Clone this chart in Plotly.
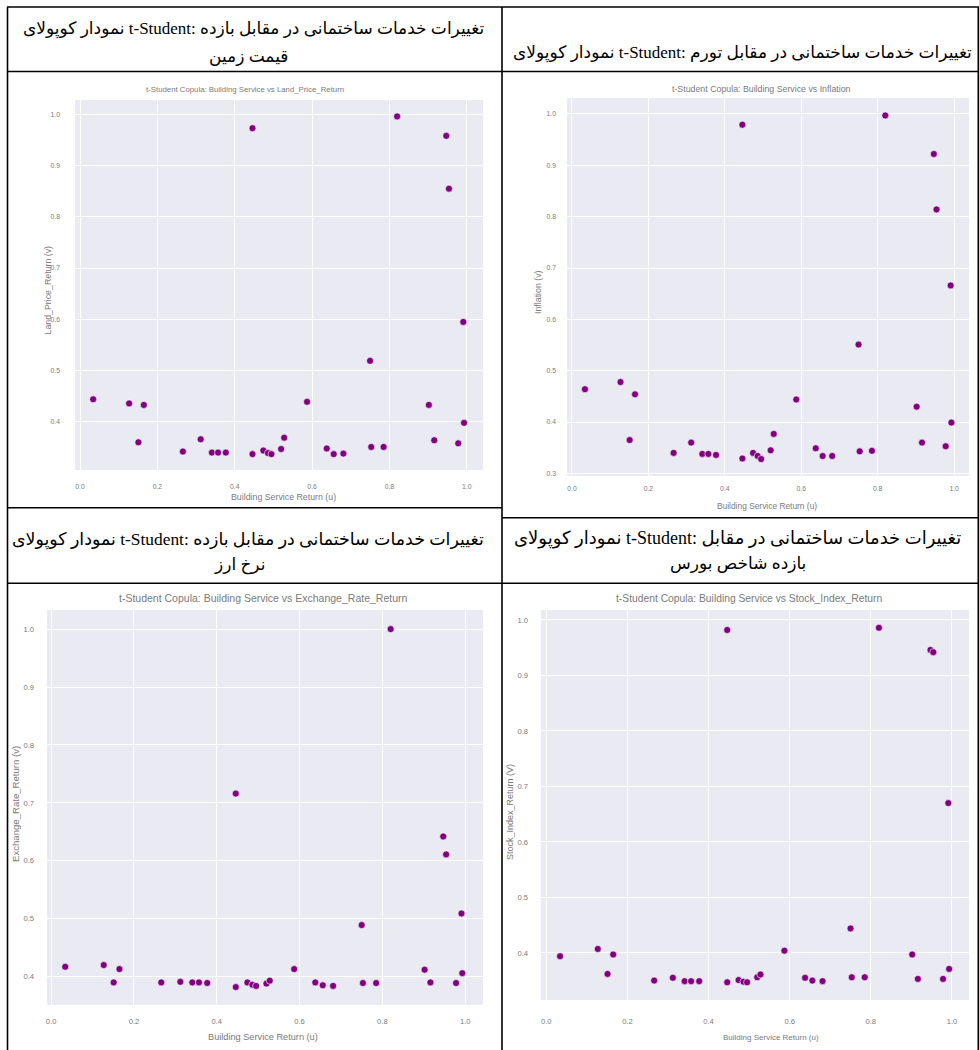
import plotly.graph_objects as go

W, H = 979, 1050

# ---------------- data ----------------
u = [0.034, 0.127, 0.151, 0.165, 0.266, 0.312, 0.341, 0.357, 0.377, 0.446, 0.446,
     0.474, 0.486, 0.495, 0.520, 0.528, 0.587, 0.638, 0.656, 0.681, 0.750, 0.753,
     0.785, 0.820, 0.902, 0.916, 0.947, 0.954, 0.978, 0.991, 0.993]

land_price = [0.444, 0.436, 0.360, 0.433, 0.342, 0.366, 0.340, 0.340, 0.340, 0.973, 0.337,
              0.344, 0.339, 0.337, 0.347, 0.369, 0.439, 0.348, 0.337, 0.338, 0.519, 0.351,
              0.351, 0.996, 0.433, 0.364, 0.958, 0.855, 0.358, 0.595, 0.398]

inflation = [0.464, 0.478, 0.365, 0.454, 0.340, 0.360, 0.338, 0.338, 0.336, 0.979, 0.329,
             0.340, 0.334, 0.328, 0.345, 0.377, 0.444, 0.349, 0.334, 0.334, 0.551, 0.343,
             0.344, 0.997, 0.430, 0.360, 0.922, 0.814, 0.353, 0.666, 0.399]

exchange_rate = [0.417, 0.420, 0.390, 0.413, 0.390, 0.391, 0.390, 0.390, 0.389, 0.716, 0.382,
                 0.390, 0.386, 0.384, 0.388, 0.393, 0.413, 0.390, 0.385, 0.384, 0.489, 0.389,
                 0.389, 1.000, 0.412, 0.390, 0.642, 0.611, 0.389, 0.509, 0.406]

stock_index = [0.394, 0.407, 0.362, 0.397, 0.350, 0.355, 0.349, 0.349, 0.349, 0.982, 0.347,
               0.351, 0.348, 0.347, 0.356, 0.361, 0.404, 0.355, 0.350, 0.349, 0.444, 0.356,
               0.356, 0.986, 0.397, 0.353, 0.946, 0.942, 0.353, 0.670, 0.371]

chart_titles = ["t-Student Copula: Building Service vs Land_Price_Return",
                "t-Student Copula: Building Service vs Inflation",
                "t-Student Copula: Building Service vs Exchange_Rate_Return",
                "t-Student Copula: Building Service vs Stock_Index_Return"]
y_labels = ["Land_Price_Return (v)", "Inflation (v)", "Exchange_Rate_Return (v)", "Stock_Index_Return (V)"]
x_label = "Building Service Return (u)"

captions = [
    ["نمودار کوپولای t-Student: تغییرات خدمات ساختمانی در مقابل بازده", "قیمت زمین"],
    ["نمودار کوپولای t-Student: تغییرات خدمات ساختمانی در مقابل تورم"],
    ["نمودار کوپولای t-Student: تغییرات خدمات ساختمانی در مقابل بازده", "نرخ ارز"],
    ["نمودار کوپولای t-Student: تغییرات خدمات ساختمانی در مقابل", "بازده شاخص بورس"],
]
series = [land_price, inflation, exchange_rate, stock_index]


# ---------------- layout (pixel boxes) ----------------
def px(x):
    return x / W


def py(y):
    return 1 - y / H


panels = [
    dict(box=(75, 100, 483, 470), xr=(-0.013, 1.042), yr=(0.306, 1.028),
         title_xy=(245, 89), title_fs=7.8, xt_xy=(283, 497), xt_fs=8.8,
         yt_xy=(47.5, 290), yt_fs=8.8, tick_fs=6.8, xstand=11, ystand=14,
         cap_xy=[(253, 29), (248, 57)], cap_fs=[17, 17]),
    dict(box=(567, 98, 969, 476), xr=(-0.013, 1.039), yr=(0.295, 1.031),
         title_xy=(761, 89), title_fs=8.8, xt_xy=(767, 506), xt_fs=8.4,
         yt_xy=(538, 292), yt_fs=8.8, tick_fs=6.8, xstand=7, ystand=10,
         cap_xy=[(742, 53)], cap_fs=[17]),
    dict(box=(47, 610, 483, 1005), xr=(-0.010, 1.043), yr=(0.351, 1.033),
         title_xy=(263, 598), title_fs=10.5, xt_xy=(263, 1037), xt_fs=9.2,
         yt_xy=(15, 804), yt_fs=9.6, tick_fs=7.6, xstand=10, ystand=12,
         cap_xy=[(248, 539), (239, 565)], cap_fs=[17.4, 17]),
    dict(box=(541, 610, 969, 1000), xr=(-0.013, 1.042), yr=(0.315, 1.018),
         title_xy=(749, 598), title_fs=10.3, xt_xy=(771, 1037), xt_fs=8.0,
         yt_xy=(510, 812), yt_fs=9.0, tick_fs=7.6, xstand=15, ystand=12,
         cap_xy=[(737, 538), (738, 563)], cap_fs=[18, 17]),
]

TXT = "#7a7a7a"
SANS = "Arial, Liberation Sans, sans-serif"
CAPFONT = "Times New Roman, Liberation Serif, DejaVu Sans, serif"

fig = go.Figure()
annotations = []
layout_axes = {}

for i, (p, v) in enumerate(zip(panels, series), start=1):
    xa = "x" if i == 1 else f"x{i}"
    ya = "y" if i == 1 else f"y{i}"
    fig.add_trace(go.Scatter(
        x=u, y=v, mode="markers", xaxis=xa, yaxis=ya, showlegend=False,
        marker=dict(size=7, color="purple", line=dict(color="white", width=0.6)),
        hovertemplate="u=%{x:.3f}<br>v=%{y:.3f}<extra></extra>"))
    x0, y0, x1, y1 = p["box"]
    axis_common = dict(showgrid=True, gridcolor="white", gridwidth=1, zeroline=False,
                       showline=False, ticks="", tickformat=".1f",
                       tickfont=dict(family=SANS, size=p["tick_fs"], color=TXT))
    layout_axes["xaxis" if i == 1 else f"xaxis{i}"] = dict(
        domain=[px(x0), px(x1)], range=list(p["xr"]), dtick=0.2, tick0=0,
        anchor=ya, ticklabelstandoff=p["xstand"], **axis_common)
    layout_axes["yaxis" if i == 1 else f"yaxis{i}"] = dict(
        domain=[py(y1), py(y0)], range=list(p["yr"]), dtick=0.1, tick0=0,
        anchor=xa, ticklabelstandoff=p["ystand"], **axis_common)

    tx, ty = p["title_xy"]
    annotations.append(dict(text=chart_titles[i - 1], x=px(tx), y=py(ty), xref="paper", yref="paper",
                            showarrow=False, xanchor="center", yanchor="middle",
                            font=dict(family=SANS, size=p["title_fs"], color=TXT)))
    ax_, ay_ = p["xt_xy"]
    annotations.append(dict(text=x_label, x=px(ax_), y=py(ay_), xref="paper", yref="paper",
                            showarrow=False, xanchor="center", yanchor="middle",
                            font=dict(family=SANS, size=p["xt_fs"], color=TXT)))
    bx, by = p["yt_xy"]
    annotations.append(dict(text=y_labels[i - 1], x=px(bx), y=py(by), xref="paper", yref="paper",
                            showarrow=False, xanchor="center", yanchor="middle", textangle=-90,
                            font=dict(family=SANS, size=p["yt_fs"], color=TXT)))
    for line, (cx, cy), fs in zip(captions[i - 1], p["cap_xy"], p["cap_fs"]):
        annotations.append(dict(text=line, x=px(cx), y=py(cy),
                                xref="paper", yref="paper", showarrow=False,
                                xanchor="center", yanchor="middle",
                                font=dict(family=CAPFONT, size=fs, color="black")))

# table borders
LW = 1.6


def hline(y, xa, xb):
    return dict(type="line", xref="paper", yref="paper", x0=px(xa), x1=px(xb), y0=py(y), y1=py(y),
                line=dict(color="black", width=LW))


def vline(x, ya, yb):
    return dict(type="line", xref="paper", yref="paper", x0=px(x), x1=px(x), y0=py(ya), y1=py(yb),
                line=dict(color="black", width=LW))


shapes = [
    hline(7, 7, 979), hline(71.5, 7, 979),
    hline(507.7, 7, 502), hline(517.7, 502, 979),
    hline(583.3, 7, 979),
    vline(7.5, 7, 1050), vline(502, 7, 1050), vline(978.3, 7, 1050),
]

fig.update_layout(
    width=W, height=H, margin=dict(l=0, r=0, t=0, b=0),
    paper_bgcolor="white", plot_bgcolor="#EAEAF2",
    annotations=annotations, shapes=shapes, showlegend=False,
    **layout_axes)

fig.write_html("out.html",
               config={"displayModeBar": False},
               post_script="document.body.style.margin='0';document.body.style.overflow='hidden';")
